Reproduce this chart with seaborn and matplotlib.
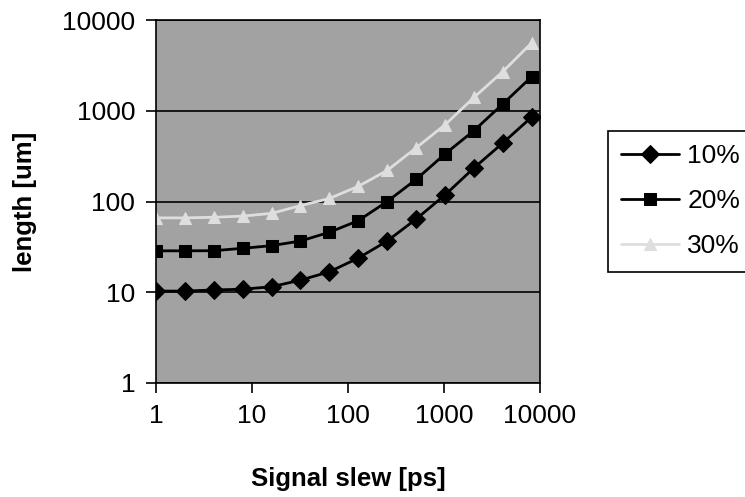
import numpy as np
import pandas as pd
import matplotlib
matplotlib.use("Agg")
import matplotlib.pyplot as plt
import seaborn as sns

# Signal slew [ps] (powers of two)
slew = [1, 2, 4, 8, 16, 32, 64, 128, 256, 512, 1024, 2048, 4096, 8192]

# length [um] for each percentage
len_10 = [10.3, 10.3, 10.6, 10.8, 11.5, 13.6, 16.8, 23.8, 36.7, 64, 118, 234, 441, 852]
len_20 = [28.6, 28.6, 28.7, 30.5, 32.6, 36.7, 45.8, 61.5, 100, 175, 334, 603, 1187, 2373]
len_30 = [66, 66, 67, 69, 74, 90, 108, 147, 220, 390, 700, 1400, 2700, 5600]

series_names = ['10%', '20%', '30%']
x_ticks = [1, 10, 100, 1000, 10000]
y_ticks = [1, 10, 100, 1000, 10000]

sns.set_style("white")
plt.rcParams['font.family'] = ['Liberation Sans', 'DejaVu Sans']
plt.rcParams['text.color'] = 'black'
plt.rcParams['axes.labelcolor'] = 'black'
plt.rcParams['xtick.color'] = 'black'
plt.rcParams['ytick.color'] = 'black'

df = pd.DataFrame({
    'slew': slew * 3,
    'length': len_10 + len_20 + len_30,
    'series': [n for n in series_names for _ in slew],
})

fig = plt.figure(figsize=(7.45, 4.97), dpi=100)
ax = fig.add_axes([156 / 745, 1 - 383 / 497, 384 / 745, 363 / 497])
ax.set_facecolor('#a2a2a2')

palette = {'10%': 'black', '20%': 'black', '30%': '#dedede'}
markers = {'10%': 'D', '20%': 's', '30%': '^'}
sns.lineplot(data=df, x='slew', y='length', hue='series', style='series',
             palette=palette, markers=markers, dashes=False, linewidth=2,
             markersize=9, ax=ax)
for line in ax.lines:
    line.set_markeredgecolor(line.get_color())

ax.set_xscale('log')
ax.set_yscale('log')
ax.set_xlim(1, 10000)
ax.set_ylim(1, 10000)
ax.set_xticks(x_ticks)
ax.set_xticklabels([str(t) for t in x_ticks])
ax.set_yticks(y_ticks)
ax.set_yticklabels([str(t) for t in y_ticks])
ax.minorticks_off()
ax.grid(axis='y', which='major', color='black', linewidth=1.2)
ax.grid(axis='x', visible=False)
ax.set_axisbelow(True)
for s in ax.spines.values():
    s.set_color('black')
    s.set_linewidth(1.2)

ax.tick_params(axis='both', which='major', direction='out', length=7, width=1.2,
               labelsize=19, color='black', pad=8, bottom=True, left=True)
ax.set_xlabel('Signal slew [ps]', fontsize=18.5, fontweight='bold', labelpad=28)
ax.set_ylabel('length [um]', fontsize=18.5, fontweight='bold', labelpad=18)

leg = ax.legend(loc='upper left', bbox_to_anchor=(608 / 745, 1 - 131 / 497),
                bbox_transform=fig.transFigure, fontsize=19, frameon=True,
                fancybox=False, edgecolor='black', framealpha=1,
                handlelength=2.2, labelspacing=0.8, borderpad=0.5,
                borderaxespad=0, handletextpad=0.3, title=None)
leg.get_frame().set_linewidth(1.2)

fig.savefig('out.png', dpi=100)
